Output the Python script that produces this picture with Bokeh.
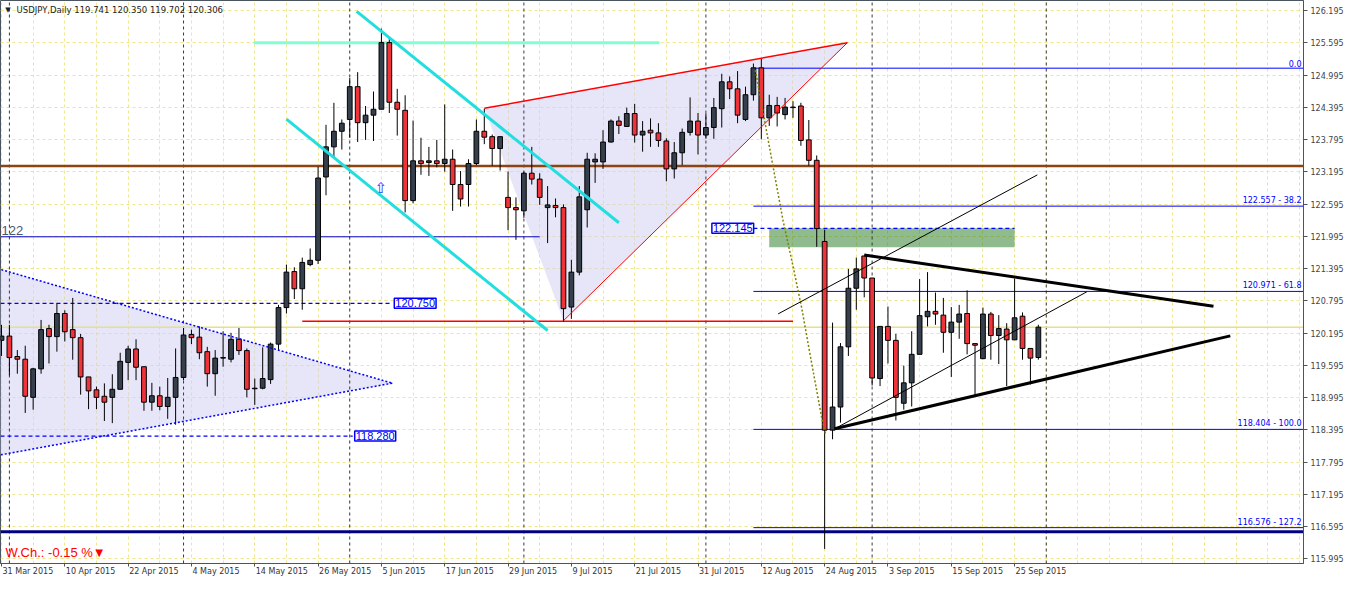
from bokeh.plotting import figure
from bokeh.models import Range1d, FixedTicker, NumeralTickFormatter, Label, ColumnDataSource
from bokeh.embed import file_html
from bokeh.resources import INLINE

# ---------------- data ----------------
date_labels = ["31 Mar 2015", "10 Apr 2015", "22 Apr 2015", "4 May 2015", "14 May 2015",
               "26 May 2015", "5 Jun 2015", "17 Jun 2015", "29 Jun 2015", "9 Jul 2015",
               "21 Jul 2015", "31 Jul 2015", "12 Aug 2015", "24 Aug 2015", "3 Sep 2015",
               "15 Sep 2015", "25 Sep 2015"]
date_bars = [0, 8, 16, 24, 32, 40, 48, 56, 64, 72, 80, 88, 96, 104, 112, 120, 128]
month_start_bars = [1, 23, 44, 66, 89, 110, 132]
grid_bars = [0, 4, 8, 12, 16, 20, 24, 28, 32, 36, 40, 44, 48, 52, 56, 60, 64, 68, 72, 76, 80,
             84, 88, 92, 96, 100, 104, 108, 112, 116, 120, 124, 128, 132, 136, 140, 144, 148,
             152, 156, 160, 164]
price_ticks = [115.995, 116.595, 117.195, 117.795, 118.395, 118.995, 119.595, 120.195, 120.795,
               121.395, 121.995, 122.595, 123.195, 123.795, 124.395, 124.995, 125.595, 126.195]

opens = [120.06, 120.14, 119.76, 119.71, 119.00, 119.53, 120.28, 120.13, 120.56, 120.26,
         120.11, 119.38, 119.14, 119.02, 119.00, 119.15, 119.65, 119.90, 119.57, 118.91,
         119.03, 118.83, 119.00, 119.37, 120.17, 120.12, 119.85, 119.44, 119.74, 119.71,
         120.08, 119.87, 119.17, 119.17, 119.33, 119.99, 120.67, 121.34, 121.02, 121.47,
         121.55, 123.10, 123.66, 123.95, 124.17, 124.78, 124.11, 124.25, 124.36, 125.60,
         124.49, 124.34, 122.66, 123.40, 123.37, 123.40, 123.35, 123.43, 122.96, 122.96,
         123.35, 123.95, 123.85, 123.63, 122.72, 122.53, 122.47, 123.17, 123.06, 122.53,
         122.57, 122.53, 120.68, 121.33, 122.49, 123.38, 123.38, 123.75, 124.14, 124.04,
         124.28, 123.88, 123.97, 123.92, 123.77, 123.25, 123.55, 123.93, 124.14, 123.88,
         124.02, 124.37, 124.87, 124.74, 124.17, 124.63, 125.13, 124.20, 124.43, 124.26,
         124.40, 124.42, 123.79, 123.41, 121.90, 118.39, 118.82, 119.94, 121.03, 121.63,
         121.22, 119.35, 120.32, 120.06, 118.89, 119.27, 119.80, 120.50, 120.60, 120.53,
         120.21, 120.40, 120.56, 120.00, 119.72, 120.55, 120.15, 120.27, 120.07, 120.51,
         119.91, 119.741]
highs = [120.35, 120.35, 119.88, 119.96, 119.55, 120.44, 120.35, 120.75, 120.62, 120.85,
         120.18, 119.38, 119.20, 119.26, 119.43, 119.83, 119.96, 120.08, 119.57, 119.27,
         119.20, 119.36, 119.91, 120.29, 120.26, 120.32, 119.94, 119.88, 120.23, 120.20,
         120.29, 119.91, 119.35, 119.93, 120.02, 120.72, 121.47, 121.42, 121.60, 121.77,
         123.29, 124.07, 124.48, 124.17, 124.94, 125.05, 124.42, 124.69, 125.86, 125.69,
         124.74, 124.62, 124.15, 123.83, 123.66, 123.79, 124.45, 123.61, 123.21, 123.43,
         124.17, 124.37, 123.89, 123.85, 123.20, 122.72, 123.20, 123.66, 123.17, 122.93,
         122.70, 122.59, 121.56, 122.93, 123.55, 123.54, 123.97, 124.17, 124.23, 124.39,
         124.46, 124.14, 124.19, 124.10, 123.82, 123.75, 124.00, 124.58, 124.29, 124.28,
         124.57, 125.02, 124.97, 125.07, 124.78, 125.21, 125.30, 124.63, 124.59, 124.57,
         124.51, 124.48, 124.16, 123.50, 122.12, 120.39, 120.01, 121.39, 121.60, 121.63,
         121.22, 120.32, 120.69, 120.18, 119.59, 120.23, 121.20, 121.33, 120.95, 120.85,
         120.68, 120.72, 120.99, 120.00, 120.67, 120.59, 120.53, 120.38, 121.21, 120.58,
         119.91, 120.350]
lows = [119.77, 119.41, 119.44, 118.71, 118.77, 119.44, 119.63, 119.85, 120.04, 119.70,
        119.05, 118.78, 118.78, 118.56, 118.52, 119.15, 119.32, 119.32, 118.75, 118.75,
        118.76, 118.60, 118.49, 119.32, 119.99, 119.71, 119.20, 119.03, 119.57, 119.65,
        119.79, 119.00, 118.86, 119.15, 119.25, 119.88, 120.56, 120.83, 120.63, 121.44,
        121.48, 122.76, 123.47, 123.61, 123.83, 123.75, 123.79, 123.77, 124.36, 124.29,
        123.87, 122.44, 122.61, 123.14, 123.12, 123.28, 123.20, 122.47, 122.55, 122.55,
        123.32, 123.71, 123.31, 123.22, 122.11, 121.93, 122.34, 122.96, 122.58, 121.87,
        122.35, 120.41, 120.46, 121.27, 122.16, 122.99, 123.25, 123.74, 123.90, 124.04,
        123.74, 123.57, 123.66, 123.66, 123.02, 123.07, 123.32, 123.87, 123.52, 123.81,
        123.81, 124.02, 124.55, 124.10, 124.14, 124.52, 123.80, 124.05, 124.04, 124.17,
        124.20, 123.68, 123.31, 121.80, 116.18, 118.22, 118.53, 119.77, 120.63, 120.86,
        119.22, 119.21, 119.63, 118.57, 118.77, 118.83, 119.80, 120.32, 120.35, 119.83,
        119.38, 120.09, 119.80, 119.04, 119.71, 119.70, 119.62, 119.21, 120.07, 119.70,
        119.24, 119.702]
closes = [120.14, 119.74, 119.71, 119.02, 119.53, 120.26, 120.13, 120.56, 120.22, 120.11,
          119.38, 119.12, 119.00, 118.91, 119.15, 119.67, 119.90, 119.56, 118.91, 119.03,
          118.83, 119.00, 119.37, 120.16, 120.11, 119.83, 119.44, 119.73, 119.73, 120.08,
          119.87, 119.15, 119.16, 119.35, 119.99, 120.67, 121.33, 121.02, 121.51, 121.55,
          123.08, 123.66, 123.95, 124.10, 124.78, 124.11, 124.25, 124.36, 125.60, 124.49,
          124.36, 122.66, 123.40, 123.35, 123.40, 123.35, 123.43, 122.96, 122.69, 123.35,
          123.95, 123.84, 123.63, 123.85, 122.53, 122.49, 123.17, 123.06, 122.72, 122.58,
          122.53, 120.65, 121.33, 122.73, 123.43, 123.43, 123.75, 124.14, 124.06, 124.28,
          123.88, 123.95, 123.92, 123.78, 123.25, 123.55, 123.93, 124.14, 123.88, 124.02,
          124.39, 124.87, 124.74, 124.25, 124.63, 125.13, 124.20, 124.43, 124.29, 124.40,
          124.39, 123.78, 123.41, 122.14, 118.39, 118.82, 119.94, 121.03, 121.39, 121.22,
          119.36, 120.32, 120.06, 119.00, 119.27, 119.80, 120.52, 120.60, 120.55, 120.21,
          120.40, 120.55, 120.00, 119.97, 120.55, 120.15, 120.28, 120.07, 120.48, 119.91,
          119.73, 120.306]

header_text = "USDJPY,Daily  119.741 120.350 119.702 120.306"
weekly_change = "W.Ch.: -0.15 %"

# drawn objects (bar index, price)
level_122 = 121.987
hline_brown = 123.305
hline_navy = 116.500
bid_price = 120.306
red_support = 120.416
red_support_bars = [38, 100]
cyan_top_level = 125.599
cyan_top_bars = [31.875, 83.125]
cyan_chan_a = ([44.875, 78.0], [126.182, 122.248])
cyan_chan_b = ([36.0, 69.0], [124.177, 120.243])
left_tri = ([-1.0, 49.375, -1.0], [121.418, 119.264, 117.906])
wedge_tri = ([61.0, 106.875, 71.0], [124.377, 125.599, 120.425])
chan_line_1 = ([98.125, 130.875], [120.553, 123.139])
chan_line_2 = ([105.25, 137.125], [118.413, 120.963])
tri_upper = ([109.0, 153.125], [121.648, 120.695])
tri_lower = ([105.25, 155.25], [118.417, 120.144])
dotted_bars = [95.25, 97.375, 98.75, 100.0, 101.125, 102.125, 103.625, 104.125]
dotted_prices = [125.089, 123.377, 122.284, 121.446, 120.645, 119.825, 118.623, 118.313]
zone_bars = [97.0, 128.0]
zone_prices = [121.792, 122.145]
fib_start_bar = 95.0
fib_levels = [125.124, 122.557, 120.971, 118.404, 116.576]
fib_texts = ["0.0", "122.557 - 38.2", "120.971 - 61.8", "118.404 - 100.0", "116.576 - 127.2"]
box_120750 = (49.375, 120.750, "120.750")
box_118280 = (44.375, 118.280, "118.280")
box_122145 = (89.5, 122.145, "122.145")
arrow_pos = (47.96, 122.904)

# ---------------- figure ----------------
X0, X1 = -0.125, 164.5
Y0, Y1 = 115.909, 126.383
PX_PER_BAR = 7.91  # approx. frame width / bar span, used to left-align the date labels

p = figure(width=1346, height=578, x_range=Range1d(X0, X1), y_range=Range1d(Y0, Y1),
           output_backend="svg", toolbar_location=None, y_axis_location="right",
           min_border_left=0, min_border_top=0, min_border_right=0, min_border_bottom=0)
p.background_fill_color = "white"
p.border_fill_color = "white"
p.outline_line_color = "#4a5560"

AX = "#4a5560"
p.yaxis.ticker = FixedTicker(ticks=price_ticks)
p.yaxis.formatter = NumeralTickFormatter(format="0.000")
p.yaxis.major_label_text_font = "DejaVu Sans"
p.yaxis.major_label_text_font_size = "8px"
p.yaxis.major_label_text_color = "#444444"
p.yaxis.major_tick_out = 4
p.yaxis.major_tick_in = 0
p.yaxis.minor_tick_out = 0
p.yaxis.minor_tick_in = 0
p.yaxis.major_label_standoff = 3
p.yaxis.axis_line_color = AX
p.yaxis.major_tick_line_color = AX

# terminal-style date labels: text starts just right of its bar -> put the (centred)
# label at the bar plus half its width; the small tick marks stay on the bars (minor ticks)
CW = {"0": .636, "1": .636, "2": .636, "3": .636, "4": .636, "5": .636, "6": .636,
      "7": .636, "8": .636, "9": .636, " ": .318, "M": .863, "a": .613, "r": .411,
      "A": .684, "p": .635, "y": .592, "J": .295, "u": .634, "n": .634, "l": .278,
      "g": .635, "S": .635, "e": .615}
label_centres = []
for b, t in zip(date_bars, date_labels):
    w = sum(CW.get(ch, .6) for ch in t) * 8
    label_centres.append(b + (w / 2 + 1) / PX_PER_BAR)
p.xaxis.ticker = FixedTicker(ticks=label_centres, minor_ticks=date_bars)
p.xaxis.major_label_overrides = {c: t for c, t in zip(label_centres, date_labels)}
p.xaxis.major_label_text_font = "DejaVu Sans"
p.xaxis.major_label_text_font_size = "8px"
p.xaxis.major_label_text_color = "#333333"
p.xaxis.major_tick_out = 0
p.xaxis.major_tick_in = 0
p.xaxis.minor_tick_out = 3
p.xaxis.minor_tick_in = 0
p.xaxis.major_label_standoff = 0
p.xaxis.axis_label_standoff = 0
p.xaxis.axis_line_color = AX
p.xaxis.minor_tick_line_color = AX

GRID = "#f0e68c"
p.ygrid.ticker = FixedTicker(ticks=price_ticks)
p.ygrid.grid_line_color = GRID
p.ygrid.grid_line_dash = "3 3"
p.xgrid.ticker = FixedTicker(ticks=grid_bars)
p.xgrid.grid_line_color = GRID
p.xgrid.grid_line_dash = "3 3"

# ---------- filled areas ----------
p.patch(left_tri[0], left_tri[1], fill_color="#cdcdf1", fill_alpha=0.5, line_color=None)
p.patch(wedge_tri[0], wedge_tri[1], fill_color="#cdcdf1", fill_alpha=0.5, line_color=None)
p.quad(left=[zone_bars[0]], right=[zone_bars[1]], bottom=[zone_prices[0]], top=[zone_prices[1]],
       fill_color="#1f781f", fill_alpha=0.5, line_color=None)

# month separators
p.segment(x0=month_start_bars, y0=[Y0] * len(month_start_bars), x1=month_start_bars,
          y1=[Y1] * len(month_start_bars), line_color="#3a3a3a", line_dash="3 3", line_width=1)

# horizontal levels
p.segment(x0=[X0], y0=[bid_price], x1=[X1], y1=[bid_price], line_color="#eadf86", line_width=1.5)
p.segment(x0=[X0], y0=[hline_brown], x1=[X1], y1=[hline_brown], line_color="#8b4513", line_width=2.5)
p.segment(x0=[X0], y0=[hline_navy], x1=[X1], y1=[hline_navy], line_color="#000080", line_width=3)
p.segment(x0=[X0], y0=[level_122], x1=[68.0], y1=[level_122], line_color="#0000cc", line_width=1)
p.segment(x0=[red_support_bars[0]], y0=[red_support], x1=[red_support_bars[1]], y1=[red_support],
          line_color="#ff0000", line_width=1.5)
p.segment(x0=[cyan_top_bars[0]], y0=[cyan_top_level], x1=[cyan_top_bars[1]], y1=[cyan_top_level],
          line_color="#7fffd4", line_width=3)
for lvl in fib_levels:
    p.segment(x0=[fib_start_bar], y0=[lvl], x1=[X1], y1=[lvl], line_color="#0000ff", line_width=1)
p.segment(x0=[X0], y0=[box_120750[1]], x1=[box_120750[0]], y1=[box_120750[1]],
          line_color="#0000ff", line_dash="4 3", line_width=1.2)
p.segment(x0=[X0], y0=[box_118280[1]], x1=[box_118280[0]], y1=[box_118280[1]],
          line_color="#0000ff", line_dash="4 3", line_width=1.2)
p.segment(x0=[box_122145[0] + 5.5], y0=[box_122145[1]], x1=[zone_bars[1]], y1=[box_122145[1]],
          line_color="#0000ff", line_dash="4 3", line_width=1.2)

# ---------- candles ----------
n = len(opens)
xs = list(range(n))
tops = [max(o, c) for o, c in zip(opens, closes)]
bots = [min(o, c) for o, c in zip(opens, closes)]
cols = ["#36404d" if c >= o else "#ee333a" for o, c in zip(opens, closes)]
src = ColumnDataSource(dict(x=xs, h=highs, l=lows, top=tops, bot=bots, col=cols))
p.segment(x0="x", y0="l", x1="x", y1="h", source=src, line_color="black", line_width=1)
p.vbar(x="x", width=0.6, top="top", bottom="bot", source=src, fill_color="col",
       line_color="black", line_width=1)

# ---------- trend lines ----------
p.line(left_tri[0][:2], left_tri[1][:2], line_color="#0000ff", line_dash="2 2", line_width=1.5)
p.line(left_tri[0][1:], left_tri[1][1:], line_color="#0000ff", line_dash="2 2", line_width=1.5)
p.line(cyan_chan_a[0], cyan_chan_a[1], line_color="#22dede", line_width=3)
p.line(cyan_chan_b[0], cyan_chan_b[1], line_color="#22dede", line_width=3)
p.line(wedge_tri[0][:2], wedge_tri[1][:2], line_color="#ff0000", line_width=1.5)
p.line(wedge_tri[0][1:], wedge_tri[1][1:], line_color="#ff0000", line_width=1)
p.line(dotted_bars, dotted_prices, line_color="#808000", line_dash="2 2", line_width=1.5)
p.line(chan_line_1[0], chan_line_1[1], line_color="black", line_width=1)
p.line(chan_line_2[0], chan_line_2[1], line_color="black", line_width=1)
p.line(tri_upper[0], tri_upper[1], line_color="black", line_width=3)
p.line(tri_lower[0], tri_lower[1], line_color="black", line_width=3)

# ---------- texts ----------
p.add_layout(Label(x=0.8, y=Y1, y_offset=-9, text="\u25bc", text_font="DejaVu Sans",
                   text_font_size="7px", text_color="#222222", text_align="center",
                   text_baseline="middle"))
p.add_layout(Label(x=1.9, y=Y1, y_offset=-9, text=header_text, text_font="DejaVu Sans",
                   text_font_size="8.5px", text_color="#222222", text_baseline="middle"))
p.add_layout(Label(x=0.5, y=Y0, y_offset=11, text=weekly_change + "\u25bc",
                   text_font="Liberation Sans", text_font_size="13px", text_color="#ff0000",
                   text_baseline="middle"))
p.add_layout(Label(x=0.0, y=level_122, y_offset=2, text="122", text_font="Liberation Sans",
                   text_font_size="13px", text_color="#4a5878", text_baseline="bottom"))
p.add_layout(Label(x=arrow_pos[0], y=arrow_pos[1], text="\u21e7", text_font="DejaVu Sans",
                   text_font_size="15px", text_color="#2244ff", text_align="center",
                   text_baseline="middle"))

for bx, by, bt in [box_120750, box_118280, box_122145]:
    p.add_layout(Label(x=bx, y=by, x_offset=2, text=bt, text_font="Liberation Sans",
                       text_font_size="11px", text_color="#0000ff", text_align="left",
                       text_baseline="middle", background_fill_color="white",
                       border_line_color="#0000ff", border_line_width=1.5, padding=1))

for lvl, t in zip(fib_levels, fib_texts):
    p.add_layout(Label(x=X1, y=lvl, x_offset=-2, y_offset=1, text=t, text_font="DejaVu Sans",
                       text_font_size="8px", text_color="#0000ff", text_align="right",
                       text_baseline="bottom"))

for lvl, bg in [(hline_brown, "#8b4513"), (bid_price, "#4f5a62"), (hline_navy, "#000080")]:
    p.add_layout(Label(x=X1, y=lvl, x_offset=3, text="%.3f" % lvl, text_font="DejaVu Sans",
                       text_font_size="8px", text_color="white", text_align="left",
                       text_baseline="middle", background_fill_color=bg, padding=2))

open("out.html", "w").write(file_html(p, INLINE))
